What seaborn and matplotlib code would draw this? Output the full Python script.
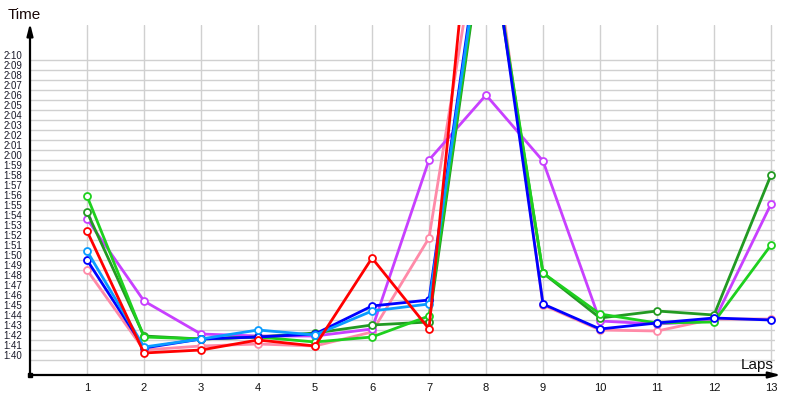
import numpy as np
import pandas as pd
import matplotlib
matplotlib.use("Agg")
import matplotlib.pyplot as plt
import matplotlib.ticker as mticker
import seaborn as sns

# ---------------- data (lap times in seconds) ----------------
laps = list(range(1, 14))
nan = np.nan
pink       = [108.5, 100.5, 100.9, 101.1, 100.9, 102.3, 111.7, 147.1, 105.0, 102.5, 102.4, 103.6, 103.6]
violet     = [113.6, 105.4, 102.1, 101.9, 101.9, 102.6, 119.5, 126.0, 119.4, 103.4, 103.1, 103.4, 115.1]
dark_green = [114.3, 101.9, 101.6, 101.8, 102.2, 103.0, 103.3, 143.9, 108.2, 103.7, 104.4, 104.0, 118.0]
green      = [115.9, 101.8, 101.6, 101.8, 101.3, 101.8, 103.9, 144.4, 108.2, 104.1, 103.2, 103.3, 111.0]
blue       = [109.5, 100.7, 101.6, 101.8, 102.1, 104.9, 105.5, 145.5, 105.1, 102.6, 103.2, 103.7, 103.5]
light_blue = [110.4, 100.8, 101.6, 102.5, 102.0, 104.4, 105.1, 144.9, nan, nan, nan, nan, nan]
red        = [112.4, 100.2, 100.5, 101.5, 100.9, 109.7, 102.6, 160.3, nan, nan, nan, nan, nan]

series_names = ["pink", "violet", "dark_green", "green", "blue", "light_blue", "red"]
series_vals = [pink, violet, dark_green, green, blue, light_blue, red]
series_colors = ["#ff8aa8", "#c840ff", "#229a22", "#1ed01e", "#0000ff", "#0a9cff", "#ff0000"]

y_tick_values = list(range(100, 131))
y_tick_labels = [f"{v // 60}:{v % 60:02d}" for v in y_tick_values]

# ---------------- figure ----------------
sns.set_style("white")
plt.rcParams["font.family"] = ["Liberation Sans", "DejaVu Sans"]

fig = plt.figure(figsize=(8, 4), dpi=100)
ax = fig.add_axes([30 / 800, 25 / 400, (775 - 30) / 800, (375 - 25) / 400])

rows = []
for name, vals in zip(series_names, series_vals):
    for lap, v in zip(laps, vals):
        rows.append({"lap": lap, "time": v, "driver": name})
df = pd.DataFrame(rows)

for i, (name, col) in enumerate(zip(series_names, series_colors)):
    sub = df[df["driver"] == name].dropna()
    sns.lineplot(data=sub, x="lap", y="time", ax=ax, color=col, linewidth=2.0,
                 marker="o", markersize=5, markerfacecolor="white",
                 markeredgecolor=col, markeredgewidth=1.3, zorder=3 + i,
                 estimator=None, sort=False)

ax.set_xlim(0, 13.07)
ax.set_ylim(98.0, 133.0)

# ticks
ax.set_xticks(laps)
ax.set_xticklabels([str(l) for l in laps])
ax.set_yticks(y_tick_values)
ax.set_yticklabels(y_tick_labels)
ax.yaxis.set_minor_locator(mticker.FixedLocator([v - 0.5 for v in y_tick_values]))
ax.tick_params(axis="x", length=0, pad=5.5, labelsize=8, labelcolor="#111111")
ax.tick_params(axis="y", which="both", length=0, pad=5.8, labelsize=7, labelcolor="#1a1a2a")

# grid
ax.grid(False)
ax.xaxis.grid(True, which="major", color="#d0d0d0", linewidth=1.0)
ax.yaxis.grid(True, which="minor", color="#d0d0d0", linewidth=1.0)
ax.set_axisbelow(True)
for s in ax.spines.values():
    s.set_visible(False)
ax.set_xlabel("")
ax.set_ylabel("")

# axes with arrows
ax.annotate("", xy=(0, 1.005), xytext=(0, 0), xycoords="axes fraction",
            textcoords="axes fraction", annotation_clip=False,
            arrowprops=dict(arrowstyle="-|>,head_length=0.7,head_width=0.18",
                            color="black", lw=1.6, shrinkA=0, shrinkB=0))
ax.annotate("", xy=(1.008, 0), xytext=(0, 0), xycoords="axes fraction",
            textcoords="axes fraction", annotation_clip=False,
            arrowprops=dict(arrowstyle="-|>,head_length=0.7,head_width=0.18",
                            color="black", lw=1.6, shrinkA=0, shrinkB=0))
ax.plot([0], [98.0], marker="s", markersize=3, color="black", clip_on=False, zorder=20)

fig.text(8 / 800, 1 - 15 / 400, "Time", fontsize=11, ha="left", va="center", color="#1a0808")
fig.text(774 / 800, 1 - 369 / 400, "Laps", fontsize=11, ha="right", va="baseline", color="#111111")

fig.savefig("out.png", dpi=100)
